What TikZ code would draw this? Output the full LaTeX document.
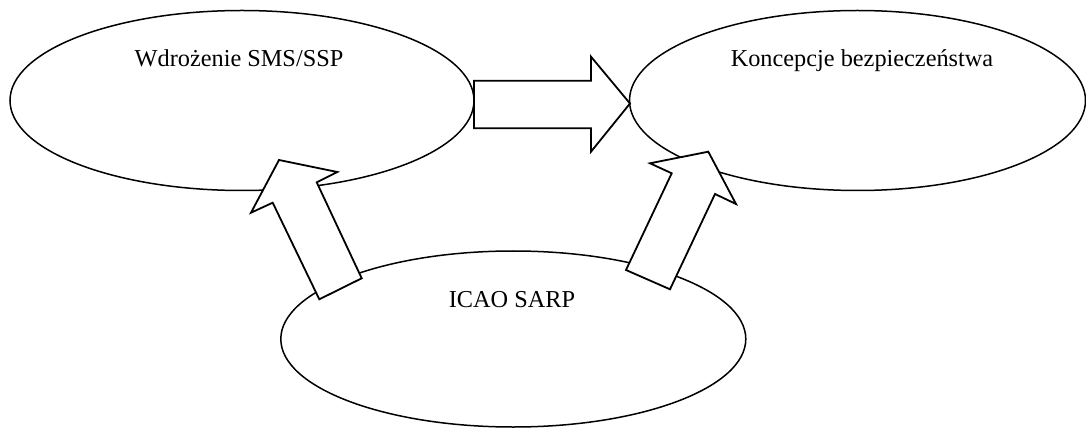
\documentclass[tikz,border=0pt]{standalone}
\usepackage{fontspec}
\setmainfont{Liberation Serif}
\usetikzlibrary{shapes.geometric}
\begin{document}
\begin{tikzpicture}[x=1pt,y=-1pt,
  oval/.style={draw, ellipse, line width=1.5pt, inner sep=0pt},
  lbl/.style={font=\fontsize{24.3}{28}\selectfont, anchor=base, inner sep=0pt},
  blockarrow/.style={draw, fill=white, line width=1.8pt, line join=miter}]
\useasboundingbox (0,0) rectangle (1086,430);
% ellipses
\node[oval, minimum width=464pt, minimum height=180pt] (wdr) at (242,100.5) {};
\node[oval, minimum width=456pt, minimum height=180pt] (konc) at (857.5,100.5) {};
\node[oval, minimum width=465pt, minimum height=176pt] (icao) at (513.3,339) {};
% labels
\node[lbl] (twdr) at (239,66.7) {Wdrożenie SMS/SSP};
\node[lbl] (tkonc) at (862,66.7) {Koncepcje bezpieczeństwa};
\node[lbl] (ticao) at (512,307.3) {ICAO SARP};
% block arrows
\draw[blockarrow] (474,80.7) -- (591,80.7) -- (591,56.7) -- (630,103.5)
  -- (591,151.7) -- (591,128.3) -- (474,128.3) -- cycle;
\draw[blockarrow] (279,160) -- (337.3,172) -- (316.7,182.3) -- (361.7,278.3)
  -- (319.3,299.3) -- (272.7,202.7) -- (251,212.7) -- cycle;
\draw[blockarrow] (708.3,151.7) -- (736,204) -- (715,194) -- (670,289.3)
  -- (626,270) -- (671.7,173.3) -- (650,163.3) -- cycle;
\end{tikzpicture}
\end{document}
